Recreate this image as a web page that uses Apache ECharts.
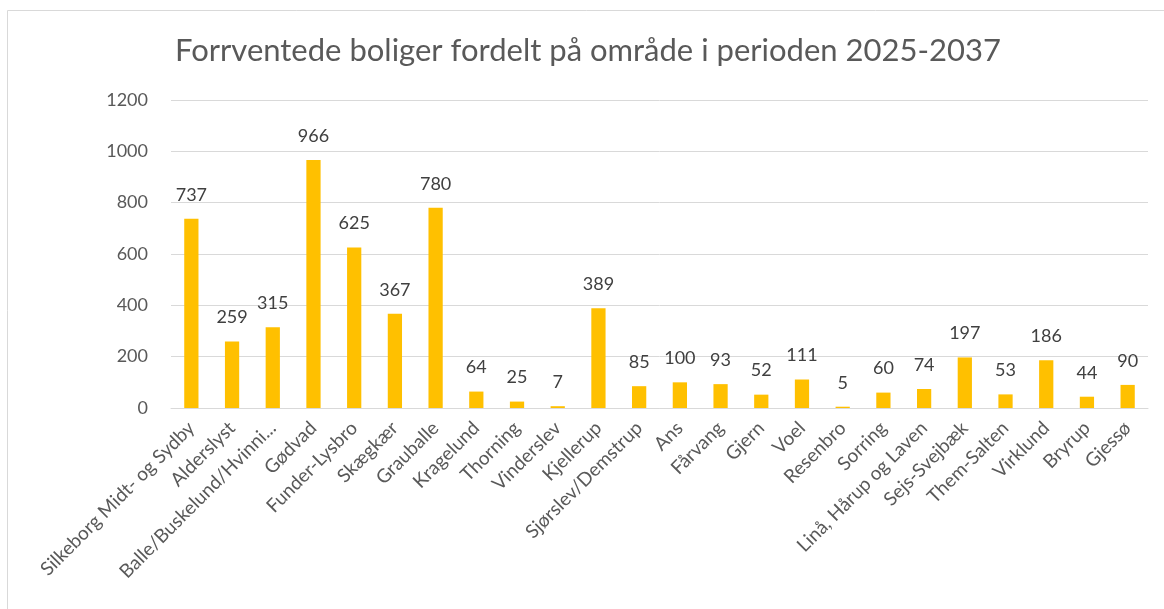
<!DOCTYPE html>
<html>
<head>
<meta charset="utf-8">
<script src="https://cdn.jsdelivr.net/npm/echarts@6/dist/echarts.min.js"></script>
<style>
html, body { margin: 0; padding: 0; background: #fff; }
#chart { width: 1164px; height: 609px; }
</style>
</head>
<body>
<div id="chart"></div>
<script>
// omraader og forventede boliger
var omraader = ['Silkeborg Midt- og Sydby', 'Alderslyst', 'Balle/Buskelund/Hvinni...', 'Gødvad', 'Funder-Lysbro',
    'Skægkær', 'Grauballe', 'Kragelund', 'Thorning', 'Vinderslev', 'Kjellerup', 'Sjørslev/Demstrup', 'Ans',
    'Fårvang', 'Gjern', 'Voel', 'Resenbro', 'Sorring', 'Linå, Hårup og Laven', 'Sejs-Svejbæk', 'Them-Salten',
    'Virklund', 'Bryrup', 'Gjessø'];
var boliger = [737, 259, 315, 966, 625, 367, 780, 64, 25, 7, 389, 85, 100, 93, 52, 111, 5, 60, 74, 197, 53, 186, 44, 90];
var yTicks = [0, 200, 400, 600, 800, 1000, 1200];

var myChart = echarts.init(document.getElementById('chart'));

var option = {
    animation: false,
    textStyle: { fontFamily: 'Lato' },
    title: {
        text: 'Forrventede boliger fordelt på område i perioden 2025-2037',
        left: 170,
        top: 30,
        textStyle: { fontFamily: 'Lato', fontSize: 31, fontWeight: 'normal', color: '#595959' }
    },
    graphic: [{
        type: 'rect',
        shape: { x: 7.5, y: 10.5, width: 1170, height: 620 },
        style: { fill: 'none', stroke: '#d9d9d9', lineWidth: 1 },
        silent: true
    }],
    grid: { left: 171, right: 16, top: 100, bottom: 201 },
    xAxis: {
        type: 'category',
        data: omraader,
        axisLine: { lineStyle: { color: '#d9d9d9' } },
        axisTick: { show: false },
        axisLabel: { interval: 0, rotate: 45, fontSize: 19, color: '#595959', margin: 17 }
    },
    yAxis: {
        type: 'value',
        min: yTicks[0],
        max: yTicks[yTicks.length - 1],
        interval: 200,
        axisLine: { show: false },
        axisTick: { show: false },
        splitLine: { lineStyle: { color: '#d9d9d9' } },
        axisLabel: { fontSize: 18, color: '#595959', margin: 23, formatter: function (v) { return String(v); } }
    },
    series: [{
        type: 'bar',
        data: boliger,
        barWidth: '35%',
        itemStyle: { color: '#FFC000' },
        label: { show: true, position: 'top', distance: 15, fontSize: 18, color: '#404040' }
    }]
};

myChart.setOption(option);
</script>
</body>
</html>
